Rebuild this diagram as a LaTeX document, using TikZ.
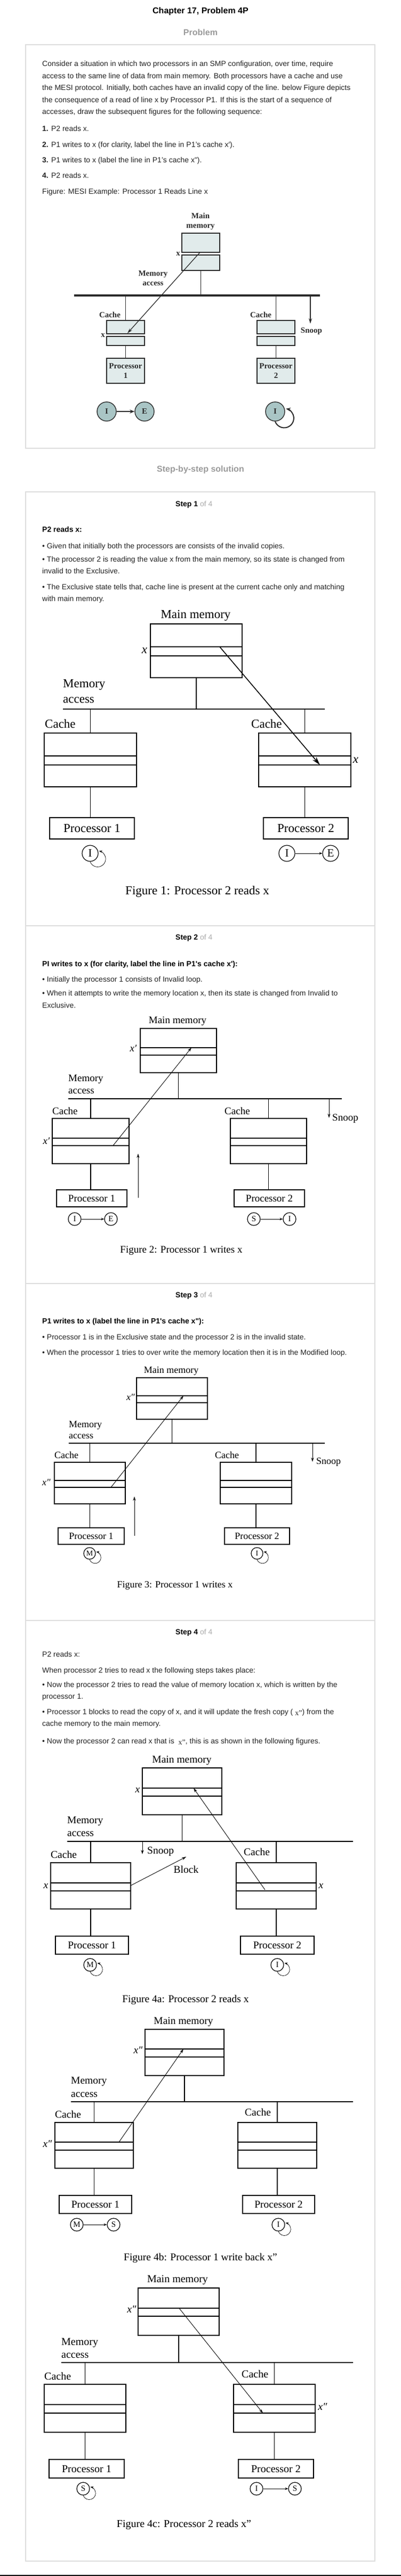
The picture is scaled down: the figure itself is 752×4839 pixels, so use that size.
\documentclass[tikz,border=0pt]{standalone}
\usepackage{fontspec}
\setmainfont{Liberation Serif}
\newfontfamily\websans{Liberation Sans}
\usetikzlibrary{arrows.meta,positioning}
\definecolor{rulegray}{HTML}{DDDDDD}
\definecolor{headgray}{HTML}{9A9A9A}
\definecolor{ofgray}{HTML}{AAAAAA}
\definecolor{bodytext}{HTML}{222222}
\definecolor{unitfill}{HTML}{E1EBEB}
\definecolor{statefill}{HTML}{A9C5C5}
\definecolor{inkgray}{HTML}{2B2B2B}
\begin{document}
\begin{tikzpicture}[x=1pt,y=1pt]
\tikzstyle{para} = [anchor=west, align=left, inner sep=0pt, text=bodytext, font=\websans\fontsize{14}{22.5}\selectfont, execute at begin node=\strut, execute at end node=\strut]
\tikzstyle{lead} = [para, text=black, font=\websans\bfseries\fontsize{14}{22.5}\selectfont]
\tikzstyle{pagehead} = [inner sep=0pt, font=\websans\bfseries\fontsize{16}{19}\selectfont, execute at begin node=\strut]
\tikzstyle{panel} = [draw=rulegray, line width=1.2pt]
\tikzstyle{lbl} = [inner sep=0pt, execute at begin node=\strut, execute at end node=\strut]
\tikzstyle{figO} = [font=\bfseries\fontsize{15}{18}\selectfont, text=inkgray]
\tikzstyle{figA} = [font=\fontsize{23}{29}\selectfont]
\tikzstyle{figB} = [font=\fontsize{19}{23}\selectfont]
\tikzstyle{figC} = [font=\fontsize{18}{21}\selectfont]
\tikzstyle{figD} = [font=\fontsize{19.5}{24.5}\selectfont]
\tikzstyle{figE} = [font=\fontsize{20}{24}\selectfont]
\tikzstyle{unitO} = [rectangle, draw=inkgray, fill=unitfill, line width=1.1pt, inner sep=0pt]
\tikzstyle{unit} = [rectangle, draw, line width=1.5pt, inner sep=0pt]
\tikzstyle{unitA} = [unit, line width=2pt]
\tikzstyle{stateO} = [circle, draw=inkgray, fill=statefill, line width=1.4pt, minimum size=36pt, inner sep=0pt, text=inkgray, font=\bfseries\fontsize{15}{18}\selectfont]
\tikzstyle{state} = [circle, draw, line width=1.2pt, inner sep=0pt]
\tikzstyle{stateA} = [state, minimum size=30pt, font=\fontsize{21}{24}\selectfont]
\tikzstyle{stateB} = [state, minimum size=24pt, font=\fontsize{15}{18}\selectfont]
\tikzstyle{stateC} = [state, minimum size=22pt, font=\fontsize{14}{17}\selectfont]
\tikzstyle{wireO} = [draw=inkgray, line width=1.2pt]
\tikzstyle{wire} = [line width=1.4pt]
\tikzstyle{strip} = [line width=1.5pt]
\tikzstyle{flowO} = [draw=inkgray, line width=1.3pt, -{Stealth[length=10pt,width=6pt]}]
\tikzstyle{transO} = [draw=inkgray, line width=2pt, -{Stealth[length=9pt,width=7pt]}]
\tikzstyle{flow} = [line width=0.9pt, -{Stealth[length=8pt,width=5pt]}]
\tikzstyle{trans} = [line width=0.7pt, -{Stealth[length=6pt,width=4.5pt]}]

\useasboundingbox (0,0) rectangle (752,-4839);

\node (chapter) [pagehead] at (376,-22) {Chapter 17, Problem 4P};
\node (problem) [pagehead, text=headgray] at (376,-63) {Problem};
\draw [panel] (48,-84) rectangle (703,-842);

\node (intro) [para] at (79,-168) {Consider a situation in which two processors in an SMP configuration, over time, require\\access to the same line of data from main memory. Both processors have a cache and use\\the MESI protocol. Initially, both caches have an invalid copy of the line. below Figure depicts\\the consequence of a read of line x by Processor P1. If this is the start of a sequence of\\accesses, draw the subsequent figures for the following sequence:};
\node (seq1) [para] at (79,-242) {\textbf{1.} P2 reads x.};
\node (seq2) [para] at (79,-272) {\textbf{2.} P1 writes to x (for clarity, label the line in P1’s cache x′).};
\node (seq3) [para] at (79,-301) {\textbf{3.} P1 writes to x (label the line in P1’s cache x").};
\node (seq4) [para] at (79,-330) {\textbf{4.} P2 reads x.};
\node (figref) [para] at (79,-360) {Figure: MESI Example: Processor 1 Reads Line x};

\node (mainlab0) [lbl, figO, align=center] at (376,-416.5) {Main\\memory};
\node (mem0) [unitO, minimum width=71pt, minimum height=70pt] at (376.5,-473) {};
\fill [white] (mem0.west |- 0,-474) rectangle (mem0.east |- 0,-479);
\draw [wireO] (mem0.west |- 0,-474) -- (mem0.east |- 0,-474);
\draw [wireO] (mem0.west |- 0,-479) -- (mem0.east |- 0,-479);
\node (memx0) [lbl, figO] at (334,-477) {x};
\coordinate (busL0) at (139,-555);
\coordinate (busR0) at (600,-555);
\draw [draw=inkgray, line width=4.5pt] (busL0) -- (busR0);
\draw [wireO] (mem0.south) -- (mem0.south |- busL0);
\node (access0) [lbl, figO, align=center] at (287,-525.5) {Memory\\access};
\node (cachelabA0) [lbl, figO] at (206,-593) {Cache};
\node (cachelabB0) [lbl, figO] at (489,-593) {Cache};
\node (cacheA0) [unitO, minimum width=71pt, minimum height=47pt] at (235.5,-625.5) {};
\node (cacheB0) [unitO, minimum width=71pt, minimum height=47pt] at (517.5,-625.5) {};
\fill [white] (cacheA0.west |- 0,-627) rectangle (cacheA0.east |- 0,-632);
\fill [white] (cacheB0.west |- 0,-627) rectangle (cacheB0.east |- 0,-632);
\draw [wireO] (cacheA0.west |- 0,-627) -- (cacheA0.east |- 0,-627);
\draw [wireO] (cacheA0.west |- 0,-632) -- (cacheA0.east |- 0,-632);
\draw [wireO] (cacheB0.west |- 0,-627) -- (cacheB0.east |- 0,-627);
\draw [wireO] (cacheB0.west |- 0,-632) -- (cacheB0.east |- 0,-632);
\node (cachex0) [lbl, figO] at (193,-630) {x};
\draw [wireO] (cacheA0.north) -- (cacheA0.north |- busL0);
\draw [wireO] (cacheB0.north) -- (cacheB0.north |- busL0);
\coordinate (snoop0) at (582,-608);
\draw [flowO] (snoop0 |- busL0) -- (snoop0);
\node (snooplab0) [lbl, figO] at (584,-622) {Snoop};
\node (procA0) [unitO, figO, align=center, minimum width=71pt, minimum height=47pt] at (235.5,-696.5) {Processor\\1};
\node (procB0) [unitO, figO, align=center, minimum width=71pt, minimum height=47pt] at (517.5,-696.5) {Processor\\2};
\draw [wireO] (cacheA0.south) -- (procA0.north);
\draw [wireO] (cacheB0.south) -- (procB0.north);
\coordinate (memline0) at (375,-474);
\coordinate (cacheline0) at (239,-626);
\draw [flowO] (memline0) -- (cacheline0);
\node (stIA0) [stateO] at (200,-773) {I};
\node (stEA0) [stateO, right of=stIA0, node distance=71pt] {E};
\node (stIB0) [stateO] at (516,-773) {I};
\draw [transO] (stIA0) -- (stEA0);
\draw [transO] (stIB0.south) arc [start angle=200, end angle=440, radius=18];

\node (solution) [pagehead, text=headgray] at (376,-883) {Step-by-step solution};
\draw [panel] (48,-924) rectangle (703,-4811);
\draw [panel] (48,-1739) -- (703,-1739);
\draw [panel] (48,-2411) -- (703,-2411);
\draw [panel] (48,-3044) -- (703,-3044);

\node (step1) [lead] at (329,-947) {Step 1 \textcolor{ofgray}{\mdseries of 4}};
\node (head1) [lead] at (79,-995) {P2 reads x:};
\node (note1a) [para] at (79,-1026) {• Given that initially both the processors are consists of the invalid copies.};
\node (note1b) [para] at (79,-1065) {• The processor 2 is reading the value x from the main memory, so its state is changed from\\invalid to the Exclusive.};
\node (note1c) [para] at (79,-1117) {• The Exclusive state tells that, cache line is present at the current cache only and matching\\with main memory.};

\node (mainlab1) [lbl, figA] at (367,-1156) {Main memory};
\node (mem1) [unitA, minimum width=172pt, minimum height=101pt] at (368,-1222.5) {};
\draw [line width=2pt] (mem1.west |- 0,-1215) -- (mem1.east |- 0,-1215);
\draw [line width=2pt] (mem1.west |- 0,-1232) -- (mem1.east |- 0,-1232);
\node (memx1) [lbl, figA] at (271,-1222) {\textit{x}};
\coordinate (busL1) at (118,-1332);
\coordinate (busR1) at (609,-1332);
\draw [line width=2pt] (busL1) -- (busR1);
\draw [wire] (mem1.south) -- (mem1.south |- busL1);
\node (access1) [lbl, figA, anchor=west, align=left] at (118,-1302.5) {Memory\\access};
\node (cachelabA1) [lbl, figA, anchor=west] at (84,-1362) {Cache};
\node (cachelabB1) [lbl, figA, anchor=west] at (471,-1362) {Cache};
\node (cacheA1) [unitA, minimum width=173pt, minimum height=101pt] at (169.5,-1427.5) {};
\node (cacheB1) [unitA, minimum width=173pt, minimum height=101pt] at (571.5,-1427.5) {};
\draw [line width=2pt] (cacheA1.west |- 0,-1420) -- (cacheA1.east |- 0,-1420);
\draw [line width=2pt] (cacheA1.west |- 0,-1437) -- (cacheA1.east |- 0,-1437);
\draw [line width=2pt] (cacheB1.west |- 0,-1420) -- (cacheB1.east |- 0,-1420);
\draw [line width=2pt] (cacheB1.west |- 0,-1437) -- (cacheB1.east |- 0,-1437);
\node (cachex1) [lbl, figA] at (667,-1428) {\textit{x}};
\draw [wire] (cacheA1.north) -- (cacheA1.north |- busL1);
\draw [wire] (cacheB1.north) -- (cacheB1.north |- busL1);
\node (procA1) [unitA, figA, minimum width=159pt, minimum height=40pt] at (172.5,-1556) {Processor 1};
\node (procB1) [unitA, figA, minimum width=159pt, minimum height=40pt] at (573.5,-1556) {Processor 2};
\draw [wire] (cacheA1.south) -- (cacheA1.south |- procA1.north);
\draw [wire] (cacheB1.south) -- (cacheB1.south |- procB1.north);
\coordinate (memline1) at (412,-1215);
\coordinate (cacheline1) at (600,-1437);
\draw [line width=1.6pt, -{Stealth[length=16pt,width=9pt]}] (memline1) -- (cacheline1);
\node (stIA1) [stateA] at (169,-1603) {I};
\draw [trans] (stIA1.south) arc [start angle=200, end angle=440, radius=15];
\node (stIB1) [stateA] at (538,-1603) {I};
\node (stEB1) [stateA, right of=stIB1, node distance=82pt] {E};
\draw [trans] (stIB1) -- (stEB1);
\node (cap1) [lbl, figA] at (370,-1675) {Figure 1: Processor 2 reads x};

\node (step2) [lead] at (329,-1761) {Step 2 \textcolor{ofgray}{\mdseries of 4}};
\node (head2) [lead] at (79,-1811) {PI writes to x (for clarity, label the line in P1's cache x'):};
\node (note2a) [para] at (79,-1840) {• Initially the processor 1 consists of Invalid loop.};
\node (note2b) [para] at (79,-1880.5) {• When it attempts to write the memory location x, then its state is changed from Invalid to\\Exclusive.};

\node (mainlab2) [lbl, figB] at (333,-1918) {Main memory};
\node (mem2) [unit, minimum width=143pt, minimum height=83pt] at (334.5,-1973.5) {};
\draw [strip] (mem2.west |- 0,-1968) -- (mem2.east |- 0,-1968);
\draw [strip] (mem2.west |- 0,-1982) -- (mem2.east |- 0,-1982);
\node (memx2) [lbl, figB] at (250,-1971) {\textit{x′}};
\coordinate (busL2) at (128,-2064);
\coordinate (busR2) at (641,-2064);
\draw [wire] (busL2) -- (busR2);
\draw [wire] (mem2.south) -- (mem2.south |- busL2);
\node (access2) [lbl, figB, anchor=west, align=left] at (128,-2040.5) {Memory\\access};
\node (cachelabA2) [lbl, figB, anchor=west] at (98,-2089) {Cache};
\node (cachelabB2) [lbl, figB, anchor=west] at (421,-2089) {Cache};
\node (cacheA2) [unit, minimum width=144pt, minimum height=85pt] at (170,-2143.5) {};
\node (cacheB2) [unit, minimum width=143pt, minimum height=85pt] at (503.5,-2143.5) {};
\draw [strip] (cacheA2.west |- 0,-2138) -- (cacheA2.east |- 0,-2138);
\draw [strip] (cacheA2.west |- 0,-2152) -- (cacheA2.east |- 0,-2152);
\draw [strip] (cacheB2.west |- 0,-2138) -- (cacheB2.east |- 0,-2138);
\draw [strip] (cacheB2.west |- 0,-2152) -- (cacheB2.east |- 0,-2152);
\node (cachex2) [lbl, figB] at (87,-2145) {\textit{x′}};
\draw [wire] (cacheA2.north) -- (cacheA2.north |- busL2);
\draw [wire] (cacheB2.north) -- (cacheB2.north |- busL2);
\coordinate (snoop2) at (617,-2100);
\draw [flow] (snoop2 |- busL2) -- (snoop2);
\node (snooplab2) [lbl, figB, anchor=west] at (623,-2101) {Snoop};
\node (procA2) [unit, figB, minimum width=132pt, minimum height=32pt] at (172,-2251) {Processor 1};
\node (procB2) [unit, figB, minimum width=132pt, minimum height=32pt] at (505,-2251) {Processor 2};
\draw [wire] (cacheA2.south) -- (cacheA2.south |- procA2.north);
\draw [wire] (cacheB2.south) -- (cacheB2.south |- procB2.north);
\coordinate (cacheline2) at (212,-2152);
\coordinate (memline2) at (359,-1968);
\draw [flow] (cacheline2) -- (memline2);
\coordinate (writeB2) at (259,-2250);
\coordinate (writeT2) at (259,-2167);
\draw [flow] (writeB2) -- (writeT2);
\node (stIA2) [stateB] at (140,-2290) {I};
\node (stEA2) [stateB, right of=stIA2, node distance=68pt] {E};
\node (stSB2) [stateB] at (476,-2290) {S};
\node (stIB2) [stateB, right of=stSB2, node distance=67pt] {I};
\draw [trans] (stIA2) -- (stEA2);
\draw [trans] (stSB2) -- (stIB2);
\node (cap2) [lbl, figB] at (340,-2349) {Figure 2: Processor 1 writes x};

\node (step3) [lead] at (329,-2433) {Step 3 \textcolor{ofgray}{\mdseries of 4}};
\node (head3) [lead] at (79,-2482) {P1 writes to x (label the line in P1's cache x"):};
\node (note3a) [para] at (79,-2512) {• Processor 1 is in the Exclusive state and the processor 2 is in the invalid state.};
\node (note3b) [para] at (79,-2541) {• When the processor 1 tries to over write the memory location then it is in the Modified loop.};

\node (mainlab3) [lbl, figC] at (321,-2575) {Main memory};
\node (mem3) [unit, minimum width=133pt, minimum height=78pt] at (322.5,-2627) {};
\draw [strip] (mem3.west |- 0,-2622) -- (mem3.east |- 0,-2622);
\draw [strip] (mem3.west |- 0,-2635) -- (mem3.east |- 0,-2635);
\node (memx3) [lbl, figC] at (245,-2626) {\textit{x″}};
\coordinate (busL3) at (129,-2711);
\coordinate (busR3) at (609,-2711);
\draw [wire] (busL3) -- (busR3);
\draw [wire] (mem3.south) -- (mem3.south |- busL3);
\node (access3) [lbl, figC, anchor=west, align=left] at (129,-2689.5) {Memory\\access};
\node (cachelabA3) [lbl, figC, anchor=west] at (102,-2735) {Cache};
\node (cachelabB3) [lbl, figC, anchor=west] at (403,-2735) {Cache};
\node (cacheA3) [unit, minimum width=133pt, minimum height=78pt] at (168.5,-2786) {};
\node (cacheB3) [unit, minimum width=134pt, minimum height=78pt] at (480,-2786) {};
\draw [strip] (cacheA3.west |- 0,-2781) -- (cacheA3.east |- 0,-2781);
\draw [strip] (cacheA3.west |- 0,-2794) -- (cacheA3.east |- 0,-2794);
\draw [strip] (cacheB3.west |- 0,-2781) -- (cacheB3.east |- 0,-2781);
\draw [strip] (cacheB3.west |- 0,-2794) -- (cacheB3.east |- 0,-2794);
\node (cachex3) [lbl, figC] at (87,-2786) {\textit{x″}};
\draw [wire] (cacheA3.north) -- (cacheA3.north |- busL3);
\draw [wire] (cacheB3.north) -- (cacheB3.north |- busL3);
\coordinate (snoop3) at (586,-2746);
\draw [flow] (snoop3 |- busL3) -- (snoop3);
\node (snooplab3) [lbl, figC, anchor=west] at (593,-2746) {Snoop};
\node (procA3) [unit, figC, minimum width=124pt, minimum height=31pt] at (171,-2885.5) {Processor 1};
\node (procB3) [unit, figC, minimum width=122pt, minimum height=31pt] at (482,-2885.5) {Processor 2};
\draw [wire] (cacheA3.south) -- (cacheA3.south |- procA3.north);
\draw [wire] (cacheB3.south) -- (cacheB3.south |- procB3.north);
\coordinate (cacheline3) at (208,-2794);
\coordinate (memline3) at (344,-2622);
\draw [flow] (cacheline3) -- (memline3);
\coordinate (writeB3) at (252,-2885);
\coordinate (writeT3) at (252,-2811);
\draw [flow] (writeB3) -- (writeT3);
\node (stMA3) [stateC] at (168,-2918) {M};
\draw [trans] (stMA3.south) arc [start angle=200, end angle=440, radius=11];
\node (stIB3) [stateC] at (482,-2918) {I};
\draw [trans] (stIB3.south) arc [start angle=200, end angle=440, radius=11];
\node (cap3) [lbl, figC] at (328,-2978) {Figure 3: Processor 1 writes x};

\node (step4) [lead] at (329,-3066) {Step 4 \textcolor{ofgray}{\mdseries of 4}};
\node (head4) [para] at (79,-3108) {P2 reads x:};
\node (note4a) [para] at (79,-3138) {When processor 2 tries to read x the following steps takes place:};
\node (note4b) [para] at (79,-3179) {• Now the processor 2 tries to read the value of memory location x, which is written by the\\processor 1.};
\node (note4c) [para] at (79,-3230) {• Processor 1 blocks to read the copy of x, and it will update the fresh copy ( \raisebox{-2pt}{\rmfamily x"}) from the\\cache memory to the main memory.};
\node (note4d) [para] at (79,-3271) {• Now the processor 2 can read x that is \ \raisebox{-2pt}{\rmfamily x"}, this is as shown in the following figures.};

\node (mainlab4) [lbl, figD] at (341,-3307) {Main memory};
\node (mem4) [unit, minimum width=149pt, minimum height=88pt] at (341.5,-3365) {};
\draw [strip] (mem4.west |- 0,-3359) -- (mem4.east |- 0,-3359);
\draw [strip] (mem4.west |- 0,-3374) -- (mem4.east |- 0,-3374);
\node (memx4) [lbl, figD] at (258,-3363) {\textit{x}};
\coordinate (busL4) at (126,-3459);
\coordinate (busR4) at (662,-3459);
\draw [wire] (busL4) -- (busR4);
\draw [wire] (mem4.south) -- (mem4.south |- busL4);
\node (access4) [lbl, figD, anchor=west, align=left] at (126,-3434.5) {Memory\\access};
\node (cachelabA4) [lbl, figD, anchor=west] at (95,-3486) {Cache};
\node (cachelabB4) [lbl, figD, anchor=west] at (457,-3481) {Cache};
\node (cacheA4) [unit, minimum width=150pt, minimum height=87pt] at (170,-3542.5) {};
\node (cacheB4) [unit, minimum width=150pt, minimum height=87pt] at (518,-3542.5) {};
\draw [strip] (cacheA4.west |- 0,-3537) -- (cacheA4.east |- 0,-3537);
\draw [strip] (cacheA4.west |- 0,-3552) -- (cacheA4.east |- 0,-3552);
\draw [strip] (cacheB4.west |- 0,-3537) -- (cacheB4.east |- 0,-3537);
\draw [strip] (cacheB4.west |- 0,-3552) -- (cacheB4.east |- 0,-3552);
\node (cachexA4) [lbl, figD] at (86,-3543) {\textit{x}};
\node (cachexB4) [lbl, figD] at (602,-3543) {\textit{x}};
\draw [wire] (cacheA4.north) -- (cacheA4.north |- busL4);
\draw [wire] (cacheB4.north) -- (cacheB4.north |- busL4);
\coordinate (snoop4) at (267,-3483);
\draw [flow] (snoop4 |- busL4) -- (snoop4);
\node (snooplab4) [lbl, figD, anchor=west] at (276,-3478) {Snoop};
\coordinate (blockS4) at (245,-3542);
\coordinate (blockE4) at (349,-3488);
\draw [flow] (blockS4) -- (blockE4);
\node (blocklab4) [lbl, figD] at (349,-3514) {Block};
\node (procA4) [unit, figD, minimum width=137pt, minimum height=34pt] at (172.5,-3654) {Processor 1};
\node (procB4) [unit, figD, minimum width=138pt, minimum height=34pt] at (520,-3654) {Processor 2};
\draw [wire] (cacheA4.south) -- (cacheA4.south |- procA4.north);
\draw [wire] (cacheB4.south) -- (cacheB4.south |- procB4.north);
\coordinate (cacheline4) at (497,-3550);
\coordinate (memline4) at (363,-3359);
\draw [flow] (cacheline4) -- (memline4);
\node (stMA4) [stateB] at (169,-3691) {M};
\draw [trans] (stMA4.south) arc [start angle=200, end angle=440, radius=12];
\node (stIB4) [stateB] at (520,-3691) {I};
\draw [trans] (stIB4.south) arc [start angle=200, end angle=440, radius=12];
\node (cap4a) [lbl, figD] at (348,-3757) {Figure 4a: Processor 2 reads x};

\node (mainlab5) [lbl, figD] at (344,-3798) {Main memory};
\node (mem5) [unit, minimum width=148pt, minimum height=87pt] at (346,-3855.5) {};
\draw [strip] (mem5.west |- 0,-3849) -- (mem5.east |- 0,-3849);
\draw [strip] (mem5.west |- 0,-3864) -- (mem5.east |- 0,-3864);
\node (memx5) [lbl, figD] at (259,-3853) {\textit{x″}};
\coordinate (busL5) at (133,-3948);
\coordinate (busR5) at (662,-3948);
\draw [wire] (busL5) -- (busR5);
\draw [wire] (mem5.south) -- (mem5.south |- busL5);
\node (access5) [lbl, figD, anchor=west, align=left] at (133,-3924) {Memory\\access};
\node (cachelabA5) [lbl, figD, anchor=west] at (103,-3974) {Cache};
\node (cachelabB5) [lbl, figD, anchor=west] at (459,-3970) {Cache};
\node (cacheA5) [unit, minimum width=147pt, minimum height=86pt] at (176.5,-4030) {};
\node (cacheB5) [unit, minimum width=148pt, minimum height=86pt] at (520,-4030) {};
\draw [strip] (cacheA5.west |- 0,-4024) -- (cacheA5.east |- 0,-4024);
\draw [strip] (cacheA5.west |- 0,-4039) -- (cacheA5.east |- 0,-4039);
\draw [strip] (cacheB5.west |- 0,-4024) -- (cacheB5.east |- 0,-4024);
\draw [strip] (cacheB5.west |- 0,-4039) -- (cacheB5.east |- 0,-4039);
\node (cachex5) [lbl, figD] at (89,-4029) {\textit{x″}};
\draw [wire] (cacheA5.north) -- (cacheA5.north |- busL5);
\draw [wire] (cacheB5.north) -- (cacheB5.north |- busL5);
\node (procA5) [unit, figD, minimum width=136pt, minimum height=34pt] at (179,-4141) {Processor 1};
\node (procB5) [unit, figD, minimum width=135pt, minimum height=34pt] at (522.5,-4141) {Processor 2};
\draw [wire] (cacheA5.south) -- (cacheA5.south |- procA5.north);
\draw [wire] (cacheB5.south) -- (cacheB5.south |- procB5.north);
\coordinate (cacheline5) at (223,-4024);
\coordinate (memline5) at (344,-3849);
\draw [flow] (cacheline5) -- (memline5);
\node (stMA5) [stateB] at (144,-4179) {M};
\node (stSA5) [stateB, right of=stMA5, node distance=69pt] {S};
\draw [trans] (stMA5) -- (stSA5);
\node (stIB5) [stateB] at (522,-4179) {I};
\draw [trans] (stIB5.south) arc [start angle=200, end angle=440, radius=12];
\node (cap4b) [lbl, figD] at (376,-4242) {Figure 4b: Processor 1 write back x"};

\node (mainlab6) [lbl, figE] at (333,-4283) {Main memory};
\node (mem6) [unit, minimum width=152pt, minimum height=89pt] at (335,-4342.5) {};
\draw [strip] (mem6.west |- 0,-4336) -- (mem6.east |- 0,-4336);
\draw [strip] (mem6.west |- 0,-4351) -- (mem6.east |- 0,-4351);
\node (memx6) [lbl, figE] at (247,-4340) {\textit{x″}};
\coordinate (busL6) at (115,-4438);
\coordinate (busR6) at (662,-4438);
\draw [wire] (busL6) -- (busR6);
\draw [wire] (mem6.south) -- (mem6.south |- busL6);
\node (access6) [lbl, figE, anchor=west, align=left] at (115,-4414) {Memory\\access};
\node (cachelabA6) [lbl, figE, anchor=west] at (83,-4466) {Cache};
\node (cachelabB6) [lbl, figE, anchor=west] at (453,-4462) {Cache};
\node (cacheA6) [unit, minimum width=153pt, minimum height=90pt] at (159.5,-4524) {};
\node (cacheB6) [unit, minimum width=153pt, minimum height=90pt] at (514.5,-4524) {};
\draw [strip] (cacheA6.west |- 0,-4517) -- (cacheA6.east |- 0,-4517);
\draw [strip] (cacheA6.west |- 0,-4533) -- (cacheA6.east |- 0,-4533);
\draw [strip] (cacheB6.west |- 0,-4517) -- (cacheB6.east |- 0,-4517);
\draw [strip] (cacheB6.west |- 0,-4533) -- (cacheB6.east |- 0,-4533);
\node (cachex6) [lbl, figE] at (605,-4523) {\textit{x″}};
\draw [wire] (cacheA6.north) -- (cacheA6.north |- busL6);
\draw [wire] (cacheB6.north) -- (cacheB6.north |- busL6);
\node (procA6) [unit, figE, minimum width=141pt, minimum height=35pt] at (162.5,-4637.5) {Processor 1};
\node (procB6) [unit, figE, minimum width=141pt, minimum height=35pt] at (517.5,-4637.5) {Processor 2};
\draw [wire] (cacheA6.south) -- (cacheA6.south |- procA6.north);
\draw [wire] (cacheB6.south) -- (cacheB6.south |- procB6.north);
\coordinate (memline6) at (336,-4336);
\coordinate (cacheline6) at (493,-4533);
\draw [flow] (memline6) -- (cacheline6);
\node (stSA6) [stateB] at (156,-4675) {S};
\draw [trans] (stSA6.south) arc [start angle=200, end angle=440, radius=12];
\node (stIB6) [stateB] at (481,-4675) {I};
\node (stSB6) [stateB, right of=stIB6, node distance=72pt] {S};
\draw [trans] (stIB6) -- (stSB6);
\node (cap4c) [lbl, figE] at (345,-4743) {Figure 4c: Processor 2 reads x"};

\fill (0,-4836.5) rectangle (752,-4839);
\end{tikzpicture}
\end{document}
